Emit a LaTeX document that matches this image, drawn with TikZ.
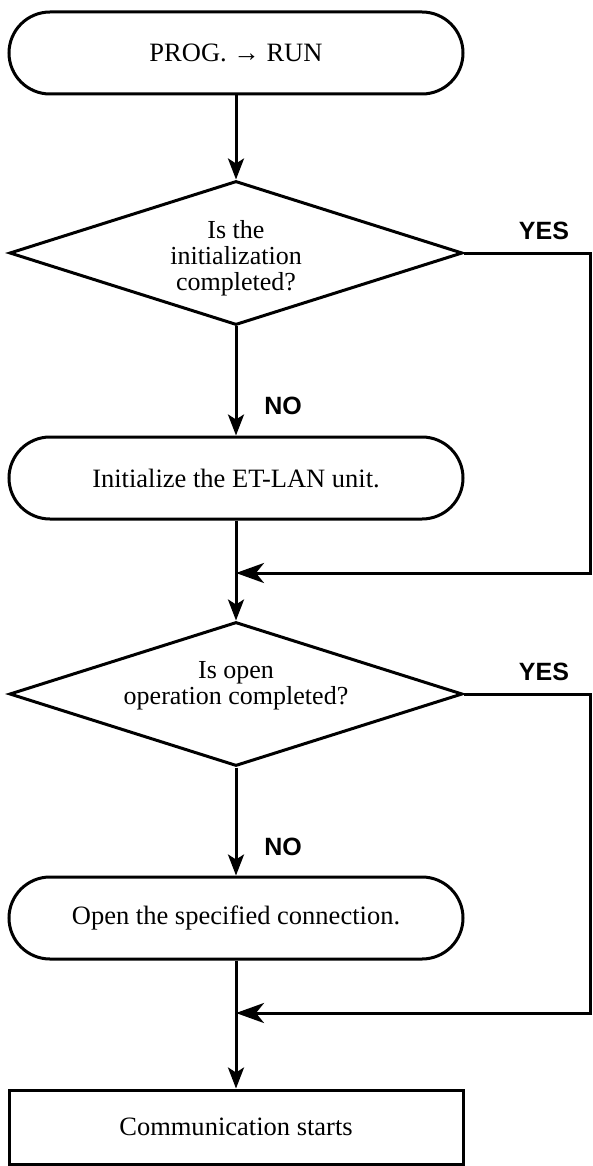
\documentclass[tikz,border=0pt]{standalone}
\usepackage{fontspec}
\setmainfont{Liberation Serif}
\newfontfamily\answerfont{Liberation Sans}
\usetikzlibrary{arrows.meta, shapes.geometric}

\tikzset{
	box/.style = {draw, rectangle, minimum width = 454pt, minimum height = 74pt, inner sep = 0pt, font = \fontsize{26.5pt}{28pt}\selectfont},
	terminal/.style = {box, minimum height = 82pt, rounded corners = 41pt},
	decision/.style = {draw, diamond, aspect = 3.15, minimum width = 453pt, minimum height = 144pt, inner sep = 0pt, align = center, font = \fontsize{26pt}{26pt}\selectfont},
	answer/.style = {inner sep = 0pt, font = \answerfont\bfseries\fontsize{25pt}{25pt}\selectfont},
	flow/.style = {-{Stealth[length = 21pt, width = 16pt, inset = 5pt]}},
	merge/.style = {-{Stealth[length = 28pt, width = 20pt, inset = 8pt]}}
}

\begin{document}
\begin{tikzpicture}[yscale = -1, line width = 3pt]
	\useasboundingbox (0, 0) rectangle (592pt, 1166pt);

	% Start
	\node [terminal] (start) at (236pt, 53pt) {PROG. → RUN};

	% Initialisierung
	\node [decision, text height = 81pt] (initdone) at (236pt, 253pt) {Is the\\initialization\\completed?};
	\node [terminal] (initunit) at (236pt, 478pt) {Initialize the ET-LAN unit.};
	\coordinate (join1) at (236pt, 573pt);
	\node [answer] (yes1) at (544pt, 231pt) {YES};
	\node [answer] (no1) at (283pt, 406pt) {NO};

	% Verbindung oeffnen
	\node [decision, text height = 26pt] (opendone) at (236pt, 694pt) {Is open\\operation completed?};
	\node [terminal] (openconn) at (236pt, 918pt) {Open the specified connection.};
	\coordinate (join2) at (236pt, 1013pt);
	\node [answer] (yes2) at (544pt, 672pt) {YES};
	\node [answer] (no2) at (283pt, 847pt) {NO};

	% Ende
	\node [box] (comm) at (236pt, 1127pt) {Communication starts};

	% Pfeile
	\draw [flow] (start) -- (initdone);
	\draw [flow] (initdone) -- (initunit);
	\draw (initunit) -- (join1);
	\draw [merge] (initdone.east) -- ++(126pt, 0) |- (join1);
	\draw [flow] (join1) -- (opendone);

	\draw [flow] (opendone) -- (openconn);
	\draw (openconn) -- (join2);
	\draw [merge] (opendone.east) -- ++(126pt, 0) |- (join2);
	\draw [flow] (join2) -- (comm);
\end{tikzpicture}
\end{document}
